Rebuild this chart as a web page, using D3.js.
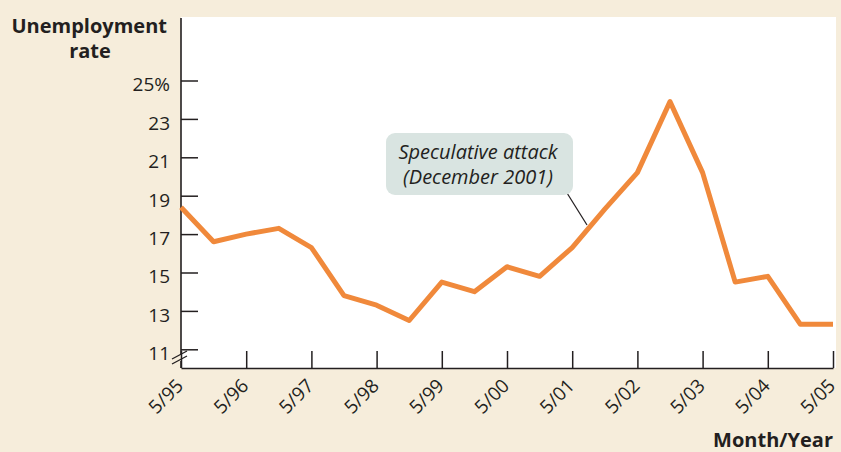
<!DOCTYPE html>
<html>
<head>
<meta charset="utf-8">
<script src="https://cdn.jsdelivr.net/npm/d3@7"></script>
<style>
  body { margin: 0; background: #f6eddb; }
  svg { display: block; }
  svg text { font-family: "Open Sans", sans-serif; }
</style>
</head>
<body>
<div id="chart"></div>
<script>
// Half-yearly observations, May 1995 to May 2005
let periods = ["5/95", "11/95", "5/96", "11/96", "5/97", "11/97", "5/98", "11/98",
	"5/99", "11/99", "5/00", "11/00", "5/01", "11/01", "5/02", "11/02",
	"5/03", "11/03", "5/04", "11/04", "5/05"];
let rates = [18.4, 16.6, 17.0, 17.3, 16.3, 13.8, 13.3, 12.5,
	14.5, 14.0, 15.3, 14.8, 16.3, 18.3, 20.2, 23.9,
	20.2, 14.5, 14.8, 12.3, 12.3];
let xTickLabels = ["5/95", "5/96", "5/97", "5/98", "5/99", "5/00", "5/01", "5/02", "5/03", "5/04", "5/05"];
let yTicks = [11, 13, 15, 17, 19, 21, 23, 25];

let width = 841, height = 452;
let margin = { top: 17, right: 8, bottom: 84, left: 181 };
let ink = "#231f20";

let svg = d3.select("#chart").append("svg")
	.attr("width", width)
	.attr("height", height);

// white plot area
svg.append("rect")
	.attr("x", margin.left)
	.attr("y", margin.top)
	.attr("width", width - margin.left - 5)
	.attr("height", height - margin.top - margin.bottom)
	.attr("fill", "#fff");

let x = d3.scalePoint()
	.domain(periods)
	.range([margin.left, 833]);

let y = d3.scaleLinear()
	.domain([11, 25])
	.range([349.3, 80.5]);

let axisY = height - margin.bottom; // 368

// y ticks (drawn inside the plot)
let yAxis = d3.axisRight(y)
	.tickValues(yTicks)
	.tickSize(17)
	.tickFormat(d => d === 25 ? "25%" : d);

let gy = svg.append("g")
	.attr("transform", "translate(" + margin.left + ",0)")
	.call(yAxis);
gy.select(".domain").remove();
gy.selectAll(".tick line").attr("stroke", ink).attr("stroke-width", 1.5);
gy.selectAll(".tick text")
	.attr("x", -11)
	.attr("dy", "0.55em")
	.style("text-anchor", "end")
	.style("font-size", "19px")
	.attr("fill", ink);

// y axis line with break
svg.append("line")
	.attr("x1", margin.left).attr("x2", margin.left)
	.attr("y1", margin.top + 1).attr("y2", 355)
	.attr("stroke", ink).attr("stroke-width", 1.6);
svg.append("line")
	.attr("x1", margin.left).attr("x2", margin.left)
	.attr("y1", 361).attr("y2", axisY)
	.attr("stroke", ink).attr("stroke-width", 1.6);
// the "//" break marks
[0, 5].forEach(off => {
	svg.append("line")
		.attr("x1", 172).attr("y1", 359 + off)
		.attr("x2", 187).attr("y2", 351 + off)
		.attr("stroke", ink).attr("stroke-width", 1.2);
});

// x axis
let xAxis = d3.axisTop(x)
	.tickValues(xTickLabels)
	.tickSize(17)
	.tickSizeOuter(0);

let gx = svg.append("g")
	.attr("transform", "translate(0," + axisY + ")")
	.call(xAxis);
gx.select(".domain").attr("stroke", ink).attr("stroke-width", 1.6);
gx.selectAll(".tick line").attr("stroke", ink).attr("stroke-width", 1.5);
gx.selectAll(".tick text")
	.attr("y", 0)
	.attr("dy", 0)
	.attr("transform", "translate(3,19) rotate(-45)")
	.style("text-anchor", "end")
	.style("font-size", "19px")
	.attr("fill", ink);

// the line
let line = d3.line()
	.x((d, i) => x(periods[i]))
	.y(d => y(d));

svg.append("path")
	.datum(rates)
	.attr("fill", "none")
	.attr("stroke", "#f0893b")
	.attr("stroke-width", 5)
	.attr("stroke-linejoin", "round")
	.attr("d", line);

// annotation
svg.append("line")
	.attr("x1", 567).attr("y1", 193)
	.attr("x2", 587).attr("y2", 225)
	.attr("stroke", ink).attr("stroke-width", 1.2);
svg.append("rect")
	.attr("x", 386).attr("y", 133)
	.attr("width", 187).attr("height", 62)
	.attr("rx", 9)
	.attr("fill", "#d9e4e1");
svg.append("text")
	.attr("x", 478).attr("y", 159)
	.style("text-anchor", "middle")
	.style("font-style", "italic")
	.style("font-size", "20px")
	.attr("fill", ink)
	.text("Speculative attack");
svg.append("text")
	.attr("x", 478).attr("y", 184)
	.style("text-anchor", "middle")
	.style("font-style", "italic")
	.style("font-size", "20px")
	.attr("fill", ink)
	.text("(December 2001)");

// axis titles
svg.append("text")
	.attr("x", 167).attr("y", 33)
	.style("text-anchor", "end")
	.style("font-weight", "bold")
	.style("font-size", "20px")
	.attr("fill", ink)
	.text("Unemployment");
svg.append("text")
	.attr("x", 90).attr("y", 58)
	.style("text-anchor", "middle")
	.style("font-weight", "bold")
	.style("font-size", "20px")
	.attr("fill", ink)
	.text("rate");
svg.append("text")
	.attr("x", 833).attr("y", 447)
	.style("text-anchor", "end")
	.style("font-weight", "bold")
	.style("font-size", "20px")
	.attr("fill", ink)
	.text("Month/Year");
</script>
</body>
</html>
